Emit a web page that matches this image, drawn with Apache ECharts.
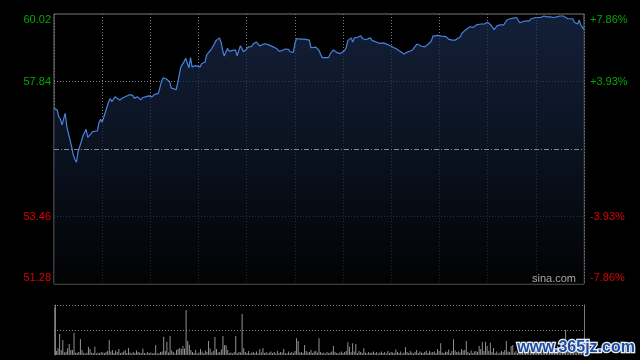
<!DOCTYPE html>
<html>
<head>
<meta charset="utf-8">
<script src="https://cdn.jsdelivr.net/npm/echarts@6/dist/echarts.min.js"></script>
<style>
html,body{margin:0;padding:0;background:#000;}
#c{width:640px;height:360px;}
</style>
</head>
<body>
<div id="c"></div>
<script>
// previous close and axis range (percent)
const preClose = 55.65;
const pctMax = 7.86;
const pctStep = 3.93;

// intraday minutes (0 = 9:30, 330 = 16:00, HK session) and prices
const minutes = [0,2,3,4,5,6,7,8,10,11,12,13,14,15,17,18,20,21,22,23,24,27,28,29,30,31,32,34,35,36,38,39,41,43,44,47,49,50,51,52,54,55,57,59,61,63,64,65,66,67,68,69,70,71,72,73,74,76,77,78,79,81,82,83,84,85,86,87,88,89,91,92,93,94,95,96,97,98,100,101,102,103,104,105,106,108,109,110,113,114,115,116,117,118,120,121,123,124,126,128,129,131,132,133,135,137,139,140,141,142,144,146,147,149,150,151,153,154,156,157,159,160,161,163,165,166,167,169,171,172,174,175,176,178,179,181,182,183,184,185,186,187,189,191,192,194,195,197,198,199,201,203,205,206,208,210,211,213,215,216,218,220,221,223,224,225,226,227,229,230,231,232,234,235,236,237,239,241,242,244,246,248,250,251,253,254,256,257,259,260,261,263,264,266,268,269,270,272,273,274,276,278,280,282,284,286,288,289,290,292,294,296,297,298,300,301,303,304,305,307,309,311,312,313,315,317,318,320,321,323,324,326,327,328,330];
const prices = [56.97,56.91,56.69,56.62,56.43,56.46,56.81,56.37,55.94,55.72,55.46,55.32,55.22,55.56,55.89,56.07,56.29,56.03,56.03,56.14,56.21,56.24,56.50,56.61,56.52,56.68,56.70,57.18,57.29,57.18,57.34,57.29,57.24,57.31,57.37,57.41,57.39,57.30,57.28,57.34,57.24,57.31,57.34,57.37,57.34,57.43,57.49,57.45,57.50,57.85,57.96,58.02,57.92,57.97,57.83,57.63,57.59,57.57,57.78,58.05,58.31,58.48,58.59,58.56,58.28,58.61,58.31,58.26,58.35,58.39,58.31,58.42,58.48,58.46,58.69,58.76,58.78,58.89,59.07,59.17,59.19,59.25,59.12,58.85,58.66,58.91,58.82,58.84,58.86,58.67,58.63,58.99,58.91,58.80,58.89,58.96,58.97,59.05,59.12,58.99,58.99,59.06,59.06,59.04,58.99,58.95,58.89,58.82,58.86,58.84,58.89,58.88,58.80,58.78,59.07,59.23,59.21,59.19,59.21,59.23,59.18,58.93,58.97,58.95,58.85,58.72,58.61,58.61,58.61,58.74,58.86,58.86,58.78,58.74,58.76,58.84,58.95,59.17,59.23,59.25,59.12,59.25,59.27,59.32,59.23,59.19,59.25,59.25,59.17,59.13,59.11,59.07,59.09,59.14,59.03,58.98,58.92,58.90,58.83,58.79,58.73,58.79,58.77,58.85,58.92,58.88,59.05,59.03,58.98,59.01,58.96,58.98,59.09,59.16,59.31,59.33,59.33,59.31,59.29,59.29,59.20,59.18,59.18,59.24,59.29,59.40,59.50,59.56,59.61,59.66,59.59,59.67,59.67,59.70,59.70,59.74,59.76,59.67,59.63,59.52,59.65,59.67,59.67,59.83,59.87,59.89,59.91,59.89,59.74,59.78,59.80,59.80,59.87,59.91,59.91,59.89,59.91,59.93,59.96,59.93,59.93,59.91,59.85,59.93,59.96,59.96,59.93,59.87,59.89,59.87,59.76,59.70,59.83,59.67,59.52];

// volume per minute (thousand shares), minute 0..330
const volumes = [
477,40,67,210,50,150,25,33,67,110,
50,50,223,23,23,30,160,50,23,15,
23,83,60,23,20,83,15,23,20,30,
25,20,30,40,150,35,50,20,45,30,
60,20,25,35,50,20,70,25,15,30,
20,45,30,25,20,65,20,15,30,20,
25,15,20,100,15,20,30,35,183,40,
133,25,190,45,30,15,50,60,70,60,
90,65,450,140,103,50,30,20,50,15,
25,60,35,20,45,30,140,65,25,40,
180,60,25,30,55,190,97,97,50,20,
25,15,30,190,20,30,25,410,67,30,
20,40,15,25,30,20,35,15,60,25,
70,20,30,15,25,35,20,30,15,40,
20,30,25,60,20,15,35,20,30,20,
40,167,140,25,30,20,100,40,25,30,
50,20,35,40,25,167,30,20,25,15,
30,20,25,35,90,30,20,15,25,35,
20,30,40,127,83,30,117,35,110,20,
40,30,20,67,25,15,30,20,25,35,
20,30,15,25,35,20,30,15,40,20,
30,25,20,55,30,20,35,15,25,77,
30,20,40,25,15,30,50,20,35,25,
20,30,45,20,40,25,30,35,20,60,
40,117,25,20,35,30,55,20,40,157,
45,30,35,25,60,45,50,140,30,20,
45,20,35,40,30,90,60,133,40,133,
90,40,123,30,70,20,35,15,25,40,
30,50,140,35,30,90,100,25,40,20,
35,25,60,30,45,20,70,35,25,50,
40,30,65,25,80,35,45,60,30,55,
40,70,35,50,90,45,60,30,75,250,
60,40,85,55,70,45,110,60,80,95,
120];

const FONT = 'Arial, "Liberation Sans", sans-serif';
const GREEN = '#00a800';
const RED = '#dd0000';
const GRIDC = '#7a7a7a';

const priceData = minutes.map((m, i) => [m, prices[i]]);
const volData = volumes.map((v, i) => [i, v]);

function pctLabel(v) {
  const r = Math.round(v * 100) / 100;
  if (r === 0) return '';
  const s = (r > 0 ? '+' : '') + r.toFixed(2) + '%';
  if (r >= pctMax) return '{gt|' + s + '}';
  if (r <= -pctMax) return '{rb|' + s + '}';
  return r > 0 ? '{g|' + s + '}' : '{r|' + s + '}';
}
function priceLabel(v) {
  const r = Math.round(v * 100) / 100;
  if (r === 0) return '';
  const s = (preClose * (1 + r / 100)).toFixed(2);
  if (r >= pctMax) return '{gt|' + s + '}';
  if (r <= -pctMax) return '{rb|' + s + '}';
  return r > 0 ? '{g|' + s + '}' : '{r|' + s + '}';
}
const rich = {
  g: {color: GREEN, fontSize: 11, fontFamily: FONT},
  r: {color: RED, fontSize: 11, fontFamily: FONT},
  gt: {color: GREEN, fontSize: 11, fontFamily: FONT, padding: [12, 0, 0, 0]},
  rb: {color: RED, fontSize: 11, fontFamily: FONT, padding: [0, 0, 12, 0]}
};

const chart = echarts.init(document.getElementById('c'), null, {renderer: 'canvas'});
chart.setOption({
  backgroundColor: '#000',
  animation: false,
  grid: [
    {left: 54, top: 14, width: 530, height: 270, show: true, borderColor: '#7a7a7a', borderWidth: 1, backgroundColor: 'transparent'},
    {left: 54, top: 305, width: 530, height: 50, show: false}
  ],
  xAxis: [
    {type: 'value', gridIndex: 0, min: 0, max: 330, interval: 30,
     axisLine: {show: false}, axisTick: {show: false}, axisLabel: {show: false},
     splitLine: {show: true, lineStyle: {color: GRIDC, type: [1, 2], width: 1}}},
    {type: 'value', gridIndex: 1, min: -0.5, max: 330.5,
     axisLine: {show: false}, axisTick: {show: false}, axisLabel: {show: false},
     splitLine: {show: false}}
  ],
  yAxis: [
    {type: 'value', gridIndex: 0, min: preClose * (1 - pctMax / 100), max: preClose * (1 + pctMax / 100),
     show: false, splitLine: {show: false}},
    {type: 'value', gridIndex: 0, position: 'right', min: -pctMax, max: pctMax, interval: pctStep,
     axisLine: {show: false}, axisTick: {show: false},
     axisLabel: {show: true, margin: 6, formatter: pctLabel, rich: rich},
     splitLine: {show: true, lineStyle: {color: ['transparent', GRIDC, 'transparent', GRIDC, 'transparent'], type: [1, 2], width: 1}}},
    {type: 'value', gridIndex: 0, position: 'left', min: -pctMax, max: pctMax, interval: pctStep,
     axisLine: {show: false}, axisTick: {show: false},
     axisLabel: {show: true, margin: 3, formatter: priceLabel, rich: rich},
     splitLine: {show: false}},
    {type: 'value', gridIndex: 1, position: 'left', min: 0, max: 500, interval: 250,
     axisLine: {show: true, lineStyle: {color: '#7a7a7a', width: 1}}, axisTick: {show: false}, axisLabel: {show: false},
     splitLine: {show: true, lineStyle: {color: ['transparent', GRIDC, GRIDC], type: [1, 2], width: 1}}},
    {type: 'value', gridIndex: 1, position: 'right', min: 0, max: 500, interval: 250,
     axisLine: {show: true, lineStyle: {color: '#7a7a7a', width: 1}}, axisTick: {show: false}, axisLabel: {show: false},
     splitLine: {show: false}}
  ],
  series: [
    {type: 'line', xAxisIndex: 0, yAxisIndex: 0, data: priceData, symbol: 'none', smooth: false,
     lineStyle: {color: '#4a82dc', width: 1.2},
     areaStyle: {origin: 'start', color: new echarts.graphic.LinearGradient(0, 0, 0, 1, [
       {offset: 0, color: '#1b2d50'}, {offset: 0.5, color: '#0f1a2e'}, {offset: 1, color: '#020304'}])},
     markLine: {silent: true, symbol: 'none', label: {show: false},
       lineStyle: {color: '#8a8a8a', type: [5, 2, 1, 2], width: 1},
       data: [{yAxis: preClose}]},
     z: 3},
    {type: 'bar', xAxisIndex: 1, yAxisIndex: 3, data: volData, barWidth: 1,
     itemStyle: {color: '#909090'}, z: 2}
  ],
  graphic: [
    {type: 'text', left: 532, top: 273, z: 10,
     style: {text: 'sina.com', fill: '#a8a8a8', font: '11px ' + FONT}},
    {type: 'text', left: 516, top: 338, z: 20,
     style: {text: 'www.365jz.com', fill: '#1d4c9e', stroke: '#e8eef8', lineWidth: 2.5,
             font: 'bold 16px ' + FONT}}
  ]
});
</script>
</body>
</html>
